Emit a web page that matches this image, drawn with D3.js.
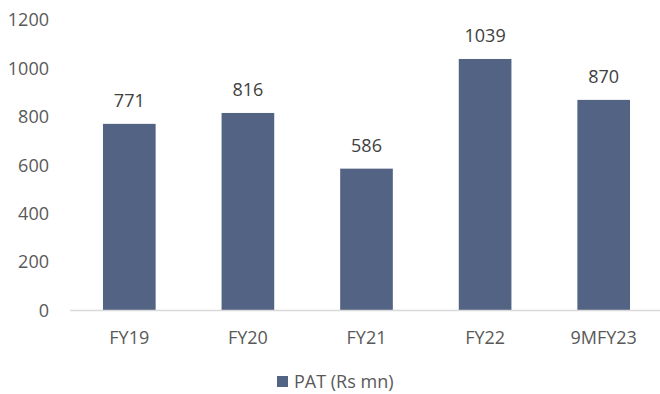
<!DOCTYPE html>
<html>
<head>
<meta charset="utf-8">
<script src="https://cdn.jsdelivr.net/npm/d3@7"></script>
<style>
  body { margin: 0; background: #fff; }
  text { font-family: "Open Sans", "Noto Sans", sans-serif; fill: #595959; }
</style>
</head>
<body>
<svg id="chart" width="660" height="394"></svg>
<script>
const categories = ['FY19', 'FY20', 'FY21', 'FY22', '9MFY23']
const patValues = [771, 816, 586, 1039, 870]
const yTicks = [0, 200, 400, 600, 800, 1000, 1200]
const seriesName = 'PAT (Rs mn)'

const svg = d3.select('#chart')
const barColor = '#536383'
const fontSize = '18px'

const x = d3.scaleBand()
  .domain(categories)
  .range([70, 663])
  .paddingInner(0.556)
  .paddingOuter(0.278)

const y = d3.scaleLinear()
  .domain([0, 1200])
  .range([310.5, 20])

// y axis labels (no line, no gridlines)
svg.append('g')
  .selectAll('text')
  .data(yTicks)
  .enter().append('text')
  .attr('x', 49)
  .attr('y', d => y(d))
  .attr('dy', '0.35em')
  .attr('text-anchor', 'end')
  .style('font-size', fontSize)
  .text(d => d)

// bars
svg.append('g')
  .selectAll('rect')
  .data(patValues)
  .enter().append('rect')
  .attr('x', (d, i) => x(categories[i]))
  .attr('y', d => y(d))
  .attr('width', x.bandwidth())
  .attr('height', d => y(0) - y(d))
  .attr('fill', barColor)

// data labels
svg.append('g')
  .selectAll('text')
  .data(patValues)
  .enter().append('text')
  .attr('x', (d, i) => x(categories[i]) + x.bandwidth() / 2)
  .attr('y', d => y(d) - 17)
  .attr('text-anchor', 'middle')
  .style('font-size', fontSize)
  .style('fill', '#404040')
  .text(d => d)

// x axis baseline
svg.append('line')
  .attr('x1', 70).attr('x2', 660)
  .attr('y1', y(0)).attr('y2', y(0))
  .attr('stroke', '#d9d9d9')
  .attr('stroke-width', 1.5)

// category labels
svg.append('g')
  .selectAll('text')
  .data(categories)
  .enter().append('text')
  .attr('x', d => x(d) + x.bandwidth() / 2)
  .attr('y', 344)
  .attr('text-anchor', 'middle')
  .style('font-size', fontSize)
  .text(d => d)

// legend
const legend = svg.append('g').attr('transform', 'translate(277,376)')
legend.append('rect')
  .attr('width', 11).attr('height', 11)
  .attr('fill', barColor)
legend.append('text')
  .attr('x', 17)
  .attr('y', 12)
  .style('font-size', fontSize)
  .text(seriesName)
</script>
</body>
</html>
